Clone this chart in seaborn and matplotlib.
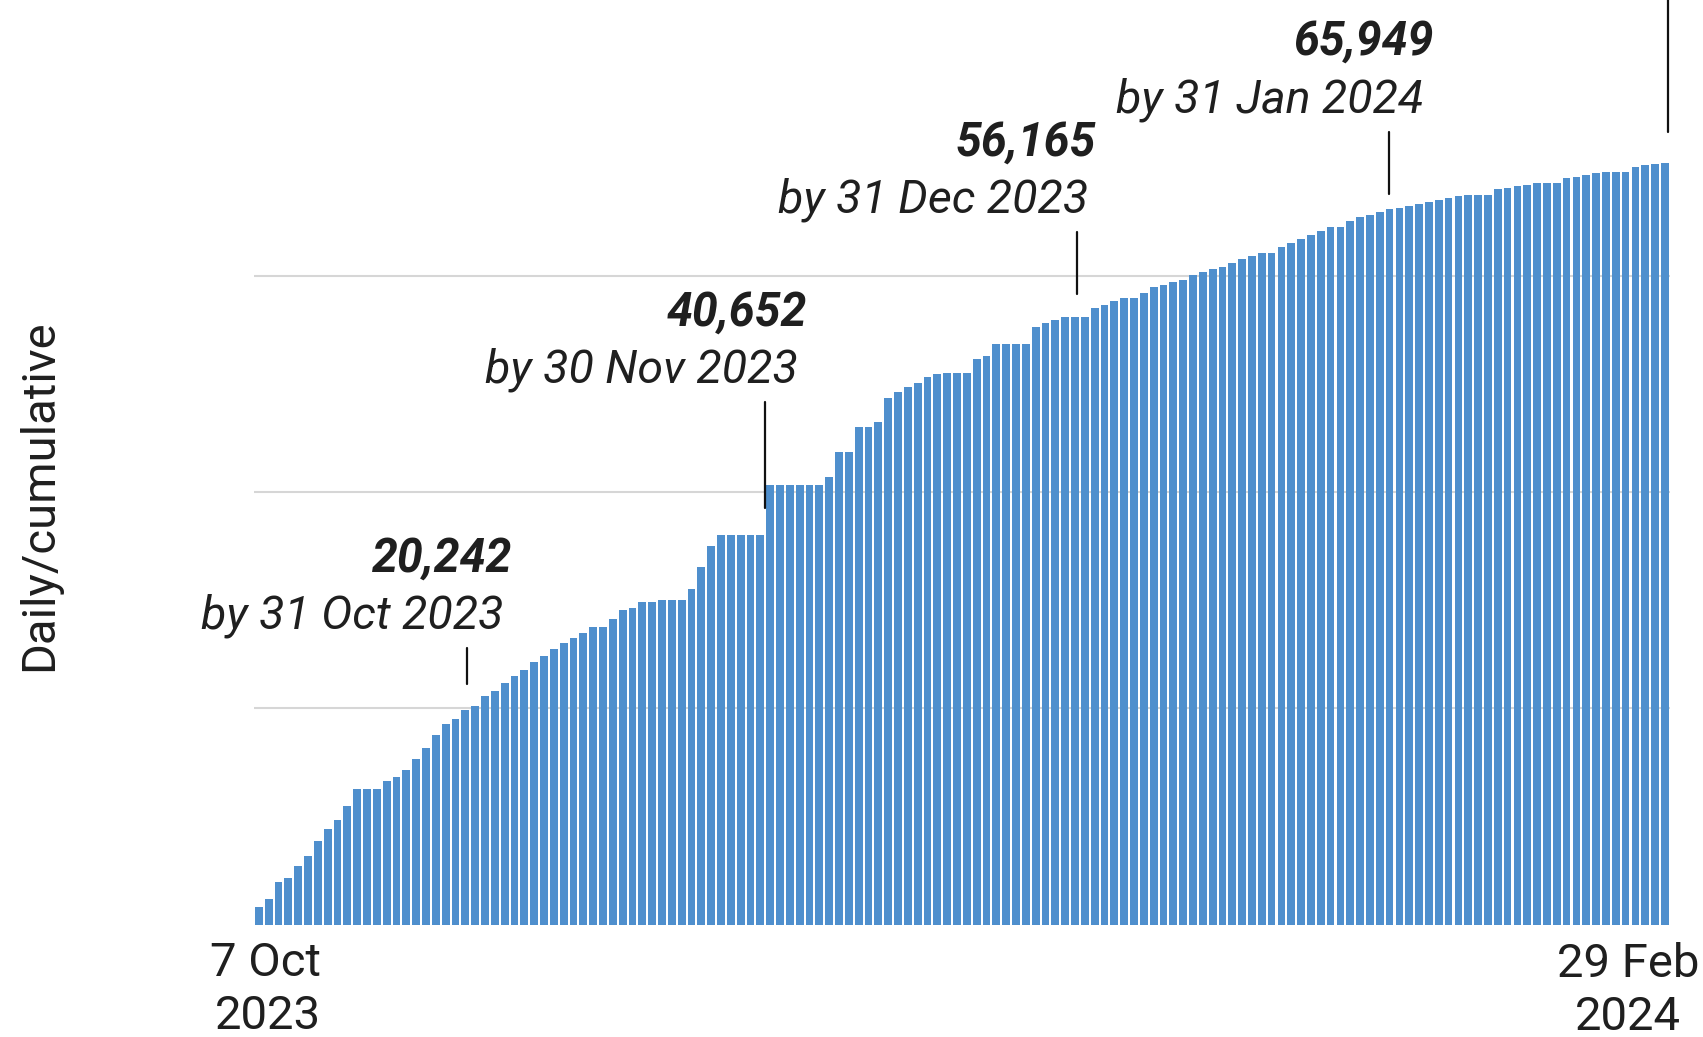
import matplotlib
matplotlib.use("Agg")
import matplotlib.pyplot as plt
import matplotlib.font_manager as fm
from matplotlib.lines import Line2D
import seaborn as sns
import pandas as pd
import numpy as np

# ---------------- data ----------------
cumulative_injured = [
    1650, 2330, 3900, 4270, 5380, 6340, 7690, 8800, 9640, 10930,
    12500, 12500, 12500, 13240, 13610, 14260, 15280, 16300, 17500, 18520,
    18980, 19810, 20242, 21100, 21570, 22310, 22960, 23510, 24250, 24820,
    25450, 26010, 26470, 26930, 27490, 27490, 28230, 29060, 29250, 29800,
    29800, 29990, 29990, 29990, 31000, 33040, 34980, 36000, 36000, 36000,
    36000, 36000, 40652, 40652, 40652, 40652, 40652, 40652, 41370, 43680,
    43680, 45990, 45990, 46450, 48670, 49230, 49690, 50060, 50620, 50890,
    50990, 50990, 50990, 52280, 52560, 53670, 53670, 53670, 53670, 55240,
    55610, 55890, 56165, 56165, 56165, 57000, 57280, 57650, 57920, 57920,
    58390, 58940, 59130, 59400, 59590, 60050, 60330, 60610, 60790, 61160,
    61530, 61810, 62090, 62090, 62640, 63010, 63380, 63750, 64120, 64490,
    64490, 65050, 65420, 65600, 65949, 66160, 66250, 66430, 66620, 66800,
    66990, 67170, 67360, 67450, 67450, 67450, 68010, 68100, 68280, 68380,
    68560, 68560, 68560, 69020, 69120, 69300, 69490, 69580, 69580, 69580,
    70040, 70230, 70320, 70410,
]
x_tick_labels = ["7 Oct\n2023", "29 Feb\n2024"]
annot_values = ["20,242", "40,652", "56,165", "65,949"]
annot_dates = ["by 31 Oct 2023", "by 30 Nov 2023", "by 31 Dec 2023", "by 31 Jan 2024"]
y_label = "Daily/cumulative"
gridline_values = [20000, 40000, 60000]

# ---------------- style ----------------
sns.set_theme(style="white")
names = {f.name for f in fm.fontManager.ttflist}
if "Liberation Sans Narrow" in names:
    FAM = "Liberation Sans Narrow"
    FS = 37.5
    FS_ANN = 37.5
    FS_Y = 36
else:
    FAM = "Roboto"
    FS = 34
    FS_ANN = 33.5
    FS_Y = 34
plt.rcParams["font.family"] = [FAM, "DejaVu Sans"]

W, H = 1703, 1037
fig = plt.figure(figsize=(W / 100, H / 100), dpi=100)
fig.patch.set_facecolor("white")

base_px = 924.5
ax = fig.add_axes([254 / W, (H - base_px) / H, (1670 - 254) / W, base_px / H])

df = pd.DataFrame({"day": np.arange(len(cumulative_injured)),
                   "value": cumulative_injured})
sns.barplot(data=df, x="day", y="value", color="#4f8fcd", saturation=1,
            width=0.783, native_scale=True, linewidth=0, ax=ax, zorder=2)

px_per_bar = 9.833
x0_px = 258.85
ax.set_xlim((254 - x0_px) / px_per_bar, (1670 - x0_px) / px_per_bar)
val_per_px = 20000 / 216.2
ax.set_ylim(0, base_px * val_per_px)

for g in gridline_values:
    ax.axhline(g, color="#d6d6d6", lw=1.5, zorder=1)

ax.set_xticks([])
ax.set_yticks([])
ax.set_xlabel("")
ax.set_ylabel("")
for s in ax.spines.values():
    s.set_visible(False)
ax.patch.set_alpha(0)

TXT = "#1f1f1f"

def fx(px):
    return px / W

def fy(py):
    return 1 - py / H

# y label
fig.text(fx(39), fy(495), y_label, rotation=90, ha="center", va="center",
         fontsize=FS_Y, color=TXT)

# x labels
lab0 = x_tick_labels[0].split("\n")
lab1 = x_tick_labels[1].split("\n")
fig.text(fx(266), fy(976), lab0[0], ha="center", va="baseline", fontsize=FS, color=TXT)
fig.text(fx(268), fy(1029), lab0[1], ha="center", va="baseline", fontsize=FS, color=TXT)
fig.text(fx(1628), fy(977), lab1[0], ha="center", va="baseline", fontsize=FS, color=TXT)
fig.text(fx(1628), fy(1030), lab1[1], ha="center", va="baseline", fontsize=FS, color=TXT)

# annotations: (value right px, value baseline, date right px, date baseline,
#               tick x, tick top, tick bottom)
annot_pos = [
    (512, 572, 504, 628, 466.7, 647.5, 683.5),
    (807, 326, 798, 382, 765.3, 401.7, 508.3),
    (1096, 156, 1088, 212, 1076.7, 231.7, 294.3),
    (1434, 55, 1423, 112, 1388.7, 131.7, 194.3),
]
for v, d, (vx, vy, dx, dy, tx, t0, t1) in zip(annot_values, annot_dates, annot_pos):
    fig.text(fx(vx), fy(vy), v, ha="right", va="baseline", fontsize=FS_ANN,
             style="italic", weight="bold", color=TXT)
    fig.text(fx(dx), fy(dy), d, ha="right", va="baseline", fontsize=FS_ANN,
             style="italic", weight="normal", color=TXT)
    fig.add_artist(Line2D([fx(tx), fx(tx)], [fy(t0), fy(t1)],
                          transform=fig.transFigure, color="#111111", lw=1.6))

# cut-off final annotation tick (29 Feb)
fig.add_artist(Line2D([fx(1668.3), fx(1668.3)], [fy(-2), fy(132)],
                      transform=fig.transFigure, color="#111111", lw=1.6))

fig.savefig("out.png", dpi=100, facecolor="white")
